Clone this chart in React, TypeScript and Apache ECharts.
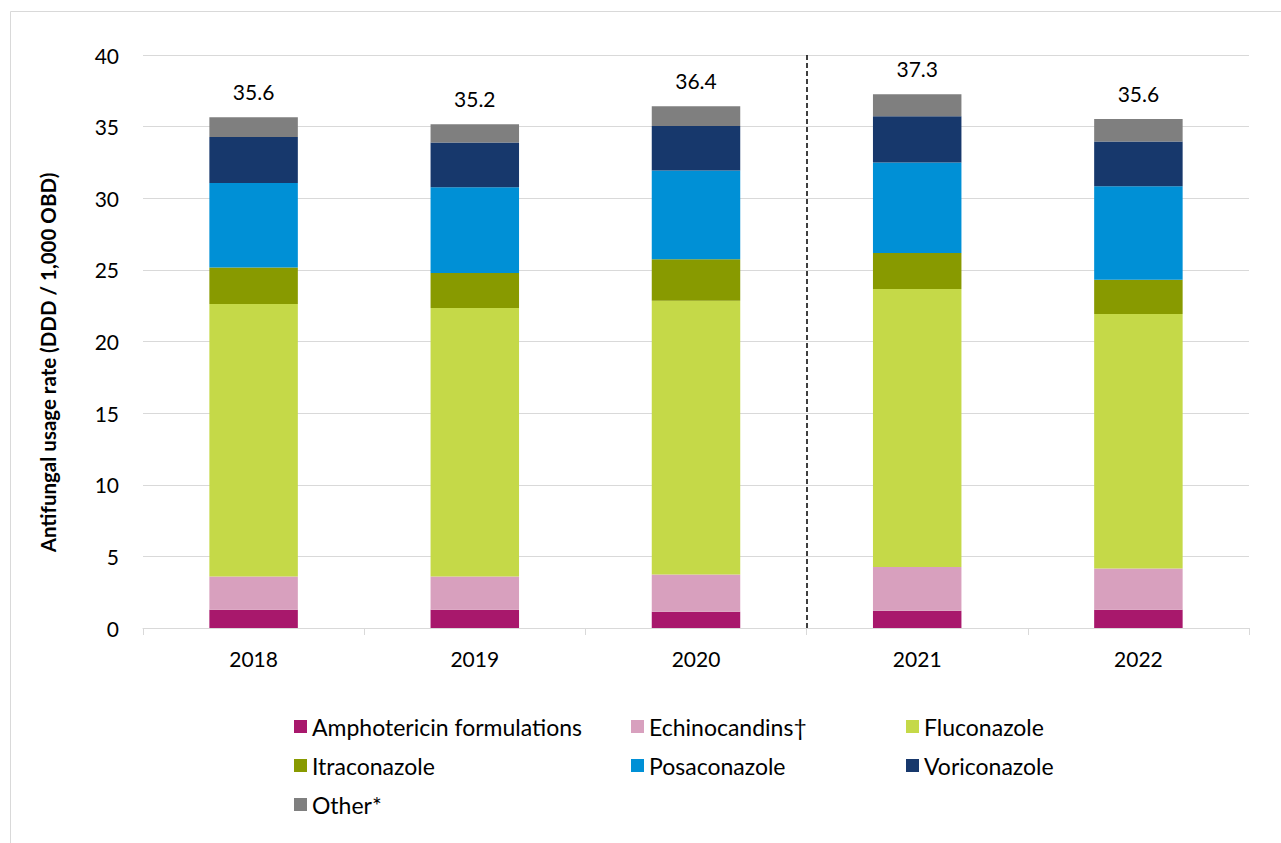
import React, { useEffect, useRef } from "react";
import * as echarts from "echarts";

const years = ["2018", "2019", "2020", "2021", "2022"];
const amphotericin = [1.28, 1.28, 1.14, 1.21, 1.28];
const echinocandins = [2.32, 2.32, 2.6, 3.04, 2.88];
const fluconazole = [19.02, 18.74, 19.11, 19.41, 17.76];
const itraconazole = [2.55, 2.44, 2.9, 2.51, 2.39];
const posaconazole = [5.9, 5.99, 6.19, 6.33, 6.53];
const voriconazole = [3.21, 3.12, 3.11, 3.23, 3.12];
const other = [1.38, 1.28, 1.37, 1.53, 1.58];
const totals = [35.6, 35.2, 36.4, 37.3, 35.6];
const yTicks = { min: 0, max: 40, interval: 5 };
const dividerAt = 3; // boundary between 2020 and 2021

const FONT = "Lato";

const seriesDefs = [
  { name: "Amphotericin formulations", data: amphotericin, color: "#A8186C" },
  { name: "Echinocandins\u2020", data: echinocandins, color: "#D8A0BE" },
  { name: "Fluconazole", data: fluconazole, color: "#C5D948" },
  { name: "Itraconazole", data: itraconazole, color: "#889A00" },
  { name: "Posaconazole", data: posaconazole, color: "#0090D6" },
  { name: "Voriconazole", data: voriconazole, color: "#17386C" },
  { name: "Other*", data: other, color: "#7F7F7F" },
];

export default function App() {
  const ref = useRef<HTMLDivElement>(null);
  useEffect(() => {
    if (!ref.current) return;
    const chart = echarts.init(ref.current, null, { renderer: "svg" });
    const legendBase = {
      orient: "vertical",
      top: 715,
      itemWidth: 13,
      itemHeight: 13,
      itemGap: 16,
      icon: "rect",
      selectedMode: false,
      padding: 0,
      textStyle: { fontFamily: FONT, fontSize: 23, color: "#000", lineHeight: 23 },
    };
    const bars = seriesDefs.map((s, i) => ({
      name: s.name,
      type: "bar",
      stack: "total",
      data: s.data,
      barWidth: "40%",
      itemStyle: { color: s.color },
      label:
        i === seriesDefs.length - 1
          ? {
              show: true,
              position: "top",
              distance: 15,
              fontFamily: FONT,
              fontSize: 21,
              color: "#000",
              formatter: (p: any) => totals[p.dataIndex].toFixed(1),
            }
          : { show: false },
    }));
    chart.setOption({
      animation: false,
      backgroundColor: "#fff",
      textStyle: { fontFamily: FONT },
      graphic: [
        {
          type: "rect",
          shape: { x: 10.5, y: 11.5, width: 1300, height: 900 },
          style: { fill: "none", stroke: "#d9d9d9", lineWidth: 1 },
          silent: true,
        },
      ],
      grid: { left: 143, right: 32, top: 55, bottom: 215 },
      legend: [
        { ...legendBase, left: 294, data: ["Amphotericin formulations", "Itraconazole", "Other*"] },
        { ...legendBase, left: 631, data: ["Echinocandins\u2020", "Posaconazole"] },
        { ...legendBase, left: 906, data: ["Fluconazole", "Voriconazole"] },
      ],
      xAxis: [
        {
          type: "category",
          data: years,
          axisLine: { lineStyle: { color: "#d9d9d9", width: 1 } },
          axisTick: { show: true, length: 7, lineStyle: { color: "#d9d9d9" } },
          axisLabel: { fontFamily: FONT, fontSize: 21, color: "#000", margin: 20 },
        },
        { type: "value", min: 0, max: years.length, show: false },
      ],
      yAxis: {
        type: "value",
        min: yTicks.min,
        max: yTicks.max,
        interval: yTicks.interval,
        name: "Antifungal usage rate (DDD / 1,000 OBD)",
        nameLocation: "middle",
        nameGap: 85,
        nameTextStyle: {
          fontFamily: FONT,
          fontSize: 20.5,
          fontWeight: "bold",
          color: "#000",
          padding: [0, 42, 0, 0],
        },
        axisLine: { show: false },
        axisTick: { show: false },
        axisLabel: { fontFamily: FONT, fontSize: 21, color: "#000", margin: 24 },
        splitLine: { lineStyle: { color: "#d9d9d9", width: 1 } },
      },
      series: [
        ...bars,
        {
          name: "divider",
          type: "line",
          xAxisIndex: 1,
          data: [[dividerAt, 0]],
          symbol: "none",
          silent: true,
          markLine: {
            silent: true,
            symbol: "none",
            label: { show: false },
            lineStyle: { color: "#000", type: [5, 3], width: 1.5 },
            data: [{ xAxis: dividerAt }],
          },
        },
      ],
    });
    return () => chart.dispose();
  }, []);
  return (
    <div
      ref={ref}
      style={{ position: "fixed", left: 0, top: 0, width: 1281, height: 843 }}
    />
  );
}
